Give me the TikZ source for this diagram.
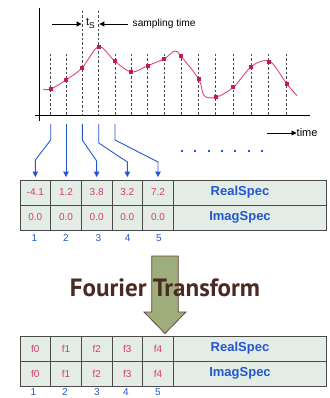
\documentclass[tikz,border=0pt]{standalone}
\usepackage{fontspec}
\setmainfont{Liberation Sans}
\newfontfamily\ftfont{PT Sans}
\usetikzlibrary{arrows.meta}
\definecolor{pinkv}{HTML}{D63C72}
\definecolor{curvec}{HTML}{E2447C}
\definecolor{dotc}{HTML}{C8175A}
\definecolor{bluel}{HTML}{2457CF}
\definecolor{tablefill}{HTML}{E3ECE5}
\definecolor{gridc}{HTML}{4A4A4A}
\definecolor{arrowg}{HTML}{9DAE7C}
\definecolor{arrowb}{HTML}{6E4444}
\definecolor{ftc}{HTML}{4A2A22}
\begin{document}
\begin{tikzpicture}[x=1pt,y=-1pt,
  cell/.style={draw=gridc, fill=tablefill, line width=0.8pt, minimum height=25pt, minimum width=30.67pt, inner sep=0pt},
  labcell/.style={cell, minimum width=152.67pt},
  val/.style={text=pinkv, font=\fontsize{10}{12}\selectfont, inner sep=0pt},
  lab/.style={text=bluel, font=\bfseries\fontsize{13}{15}\selectfont, inner sep=0pt},
  idx/.style={text=bluel, font=\fontsize{10}{12}\selectfont, inner sep=0pt},
  samp/.style={fill=dotc, minimum size=4.2pt, inner sep=0pt},
  vline/.style={draw=gridc, line width=0.7pt, dash pattern=on 2.5pt off 2pt},
  axis/.style={draw=black, line width=0.9pt},
  blk/.style={draw=black, line width=0.9pt, -{Triangle[width=5pt,length=5pt]}},
  bluearrow/.style={draw=bluel, line width=0.9pt, -{Triangle[width=5.5pt,length=5.5pt]}, shorten >=2.5pt},
  txt/.style={font=\fontsize{10.2}{12}\selectfont, inner sep=0pt}
]
\useasboundingbox (0,0) rectangle (329,398);

% axes
\draw[axis] (39,8) -- (39,121);
\draw[axis] (35,115) -- (310,115);

% dashed sample lines
\foreach \x in {50.7,66,115,131.3,147.7,164.3,181,198.7,215.7,233.3,251,268.7,286.7}
  \draw[vline] (\x,54) -- (\x,115);
\foreach \x in {82.3,98.7}
  \draw[vline] (\x,11) -- (\x,115);

% curve
\draw[curvec, line width=0.9pt] plot[smooth, tension=0.55] coordinates {
 (43.3,89.3) (50.7,89) (66,80) (82.3,67.7) (98.7,46.7) (115,61.3) (131.3,72)
 (147.7,65.7) (164.3,58.7) (175,51) (181,56.3) (198.7,79) (204,95.5)
 (215.7,97.3) (233.3,87.3) (251,66.7) (265,60.5) (273,64) (286.7,83.7) (297,95.7)};

% sample points
\foreach \i/\x/\y in {1/50.7/89,2/66/80,3/82.3/67.7,4/98.7/46.7,5/115/61.3,6/131.3/72,7/147.7/65.7,8/164.3/58.7,9/181/56.3,10/198.7/79,11/215.7/97.3,12/233.3/87.3,13/251/66.7,14/268.7/62,15/286.7/83.7}
  \node[samp] (s\i) at (\x,\y) {};

% sampling time annotation
\node[txt, font=\fontsize{11}{13}\selectfont] (ts) at (90.5,23.5) {t\raisebox{-2.2pt}{\fontsize{8.5}{9}\selectfont S}};
\coordinate (sa1) at (52,24);
\coordinate (sa2) at (81.6,24);
\coordinate (sb1) at (128,24);
\coordinate (sb2) at (99.4,24);
\draw[blk] (sa1) -- (sa2);
\draw[blk] (sb1) -- (sb2);
\node[txt, anchor=west] (st) at (132.5,23.5) {sampling time};

% time axis label
\node[txt, anchor=west, font=\fontsize{11}{13}\selectfont] (tl) at (296.5,133) {time};
\coordinate (ta) at (267,133);
\draw[blk] (ta) -- (tl.west);

% table 1
\foreach \i/\x/\v in {1/35.33/-4.1,2/66/1.2,3/96.67/3.8,4/127.33/3.2,5/158/7.2}{
  \node[cell] (r\i) at (\x,192.5) {};
  \node[cell] (m\i) at (\x,217.5) {};
  \node[val] at (r\i) {\v};
  \node[val] at (m\i) {0.0};
}
\node[labcell] (rl) at (249.67,192.5) {};
\node[labcell] (ml) at (249.67,217.5) {};
\node[lab] (rlt) at (240,192.5) {RealSpec};
\node[lab] (mlt) at (240,217.5) {ImagSpec};
\foreach \i/\x in {1/34.3,2/66,3/98.3,4/127.7,5/159}
  \node[idx] (ia\i) at (\x,238.5) {\i};

% blue connectors
\coordinate (b1) at (50.7,124);
\coordinate (b2) at (66,124);
\coordinate (b3) at (82.3,124);
\coordinate (b4) at (98.7,124);
\coordinate (b5) at (115,124);
\draw[bluearrow] (b1) -- ++(0,16) -- (r1.north |- 0,160) -- (r1.north);
\draw[bluearrow] (b2) -- (r2.north);
\draw[bluearrow] (b3) -- ++(0,16) -- (r3.north |- 0,161) -- (r3.north);
\draw[bluearrow] (b4) -- ++(0,19) -- (r4.north |- 0,162) -- (r4.north);
\draw[bluearrow] (b5) -- ++(0,16) -- (r5.north |- 0,162) -- (r5.north);

% blue dots
\foreach \k in {0,...,6}
  \fill[bluel] (182+13.33*\k-1.1,151-1.1) rectangle ++(2.2,2.2);

% Fourier arrow
\draw[fill=arrowg, draw=arrowb, line width=0.8pt]
  (151.7,256) -- (178.3,256) -- (178.3,312) -- (186,312) -- (165,333.5)
  -- (144,312) -- (151.7,312) -- cycle;
\node[text=ftc, font=\ftfont\bfseries\fontsize{25}{28}\selectfont, inner sep=0pt] (ft) at (165,287.5) {Fourier Transform};

% table 2
\foreach \i/\x in {1/35.33,2/66,3/96.67,4/127.33,5/158}{
  \pgfmathtruncatemacro{\f}{\i-1}
  \node[cell] (p\i) at (\x,348.5) {};
  \node[cell] (q\i) at (\x,373.5) {};
  \node[val] at (p\i) {f\f};
  \node[val] at (q\i) {f\f};
}
\node[labcell] (pl) at (249.67,348.5) {};
\node[labcell] (ql) at (249.67,373.5) {};
\node[lab] (plt) at (240,348.5) {RealSpec};
\node[lab] (qlt) at (240,373.5) {ImagSpec};
\foreach \i/\x in {1/33.3,2/65,3/97,4/126,5/158}
  \node[idx] (ib\i) at (\x,392.5) {\i};
\end{tikzpicture}
\end{document}
